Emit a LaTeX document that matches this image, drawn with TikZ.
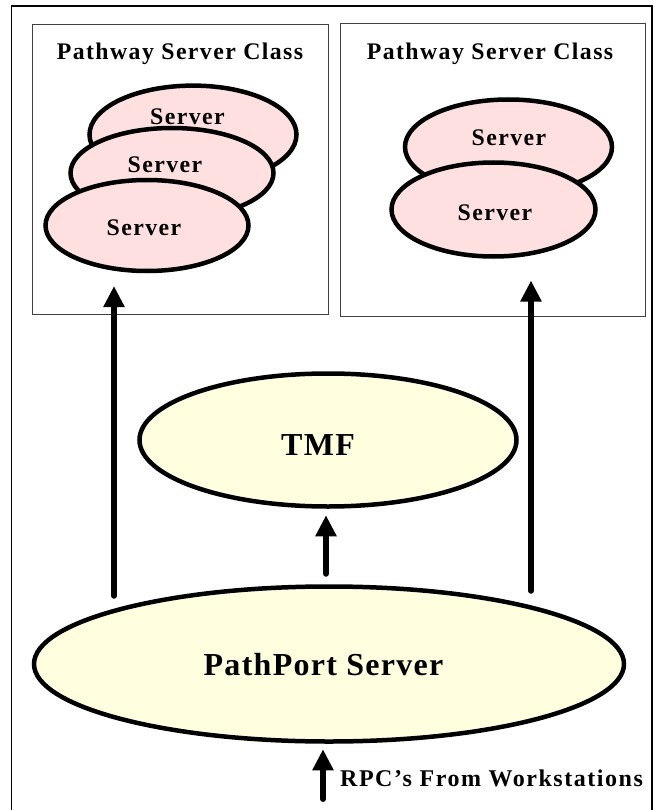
\documentclass[tikz,border=0pt]{standalone}
\usepackage{fontspec}
\setmainfont{Liberation Serif}[BoldFont=Liberation Serif Bold]
\usetikzlibrary{arrows.meta,shapes.geometric}
\definecolor{serverpink}{HTML}{FFE0E0}
\definecolor{procyellow}{HTML}{FFFFE0}
\tikzstyle{classbox}=[
    draw=black!75,
    line width=1pt,
    inner sep=0pt,
]
\tikzstyle{serverell}=[
    ellipse,
    draw,
    fill=serverpink,
    line width=4.5pt,
    inner sep=0pt,
    minimum width=207pt,
    minimum height=95pt,
]
\tikzstyle{procell}=[
    ellipse,
    draw,
    fill=procyellow,
    line width=4.5pt,
    inner sep=0pt,
]
\tikzstyle{flowarrow}=[
    -{Triangle[width=20pt,length=21pt]},
    line width=6pt,
    line cap=round,
]
\tikzstyle{smalltext}=[
    anchor=base,
    inner sep=0pt,
    font={\fontsize{23.8}{28}\selectfont\bfseries\addfontfeature{LetterSpace=6}},
]
\tikzstyle{bigtext}=[
    anchor=base,
    inner sep=0pt,
    font={\fontsize{32}{38}\selectfont\bfseries\addfontfeature{LetterSpace=4}},
]

\begin{document}
\begin{tikzpicture}[x=1pt,y=-1pt]
    \useasboundingbox (0,0) rectangle (654,810);
    % outer frame, open at the bottom
    \coordinate (framebl) at (11.5,810);
    \coordinate (frametl) at (11.5,6);
    \coordinate (frametr) at (652,6);
    \coordinate (framebr) at (652,810);
    \draw[line width=1.4pt] (framebl) -- (frametl) -- (frametr) -- (framebr);

    \node[classbox, minimum width=296pt, minimum height=290pt] (leftclass) at (180,169.5) {};
    \node[classbox, minimum width=305pt, minimum height=293pt] (rightclass) at (492.75,170) {};
    \node[smalltext] (lefttitle) at (180,60) {Pathway Server Class};
    \node[smalltext] (righttitle) at (490,60) {Pathway Server Class};

    \node[serverell, minimum height=98pt] (serverla) at (193,134.6) {};
    \node[serverell, minimum width=203pt, minimum height=90pt] (serverlb) at (172,173) {};
    \node[serverell, minimum width=203pt, minimum height=91pt] (serverlc) at (147,225.5) {};
    \node[smalltext] (textla) at (187.5,125) {Server};
    \node[smalltext] (textlb) at (165,173) {Server};
    \node[smalltext] (textlc) at (144,235) {Server};

    \node[serverell] (serverra) at (508.5,147) {};
    \node[serverell, minimum width=204pt, minimum height=94pt] (serverrb) at (493.5,209.5) {};
    \node[smalltext] (textra) at (509,146) {Server};
    \node[smalltext] (textrb) at (495,221) {Server};

    \node[procell, minimum width=377pt, minimum height=133pt] (tmf) at (328,440) {};
    \node[bigtext] (tmftext) at (318,455) {TMF};
    \node[procell, minimum width=590pt, minimum height=155pt] (pathport) at (329,664) {};
    \node[bigtext] (pathporttext) at (323.5,675) {PathPort Server};

    \node[smalltext, anchor=base west, font={\fontsize{24}{28}\selectfont\bfseries\addfontfeature{LetterSpace=6.4}}] (rpctext) at (340,786) {RPC’s From Workstations};
    \coordinate (rpcfoot) at (323,799);

    \draw[flowarrow] ([xshift=-215pt,yshift=-11.5pt]pathport.north) -- ([xshift=-66pt,yshift=29pt]leftclass.south);
    \draw[flowarrow] ([xshift=202pt,yshift=-6.5pt]pathport.north) -- ([xshift=38.25pt,yshift=36.5pt]rightclass.south);
    \draw[flowarrow] ([xshift=-3pt,yshift=10.5pt]pathport.north) -- ([xshift=-2pt,yshift=-6.5pt]tmf.south);
    \draw[flowarrow] (rpcfoot) -- ([xshift=-6pt,yshift=-5.5pt]pathport.south);
\end{tikzpicture}
\end{document}
